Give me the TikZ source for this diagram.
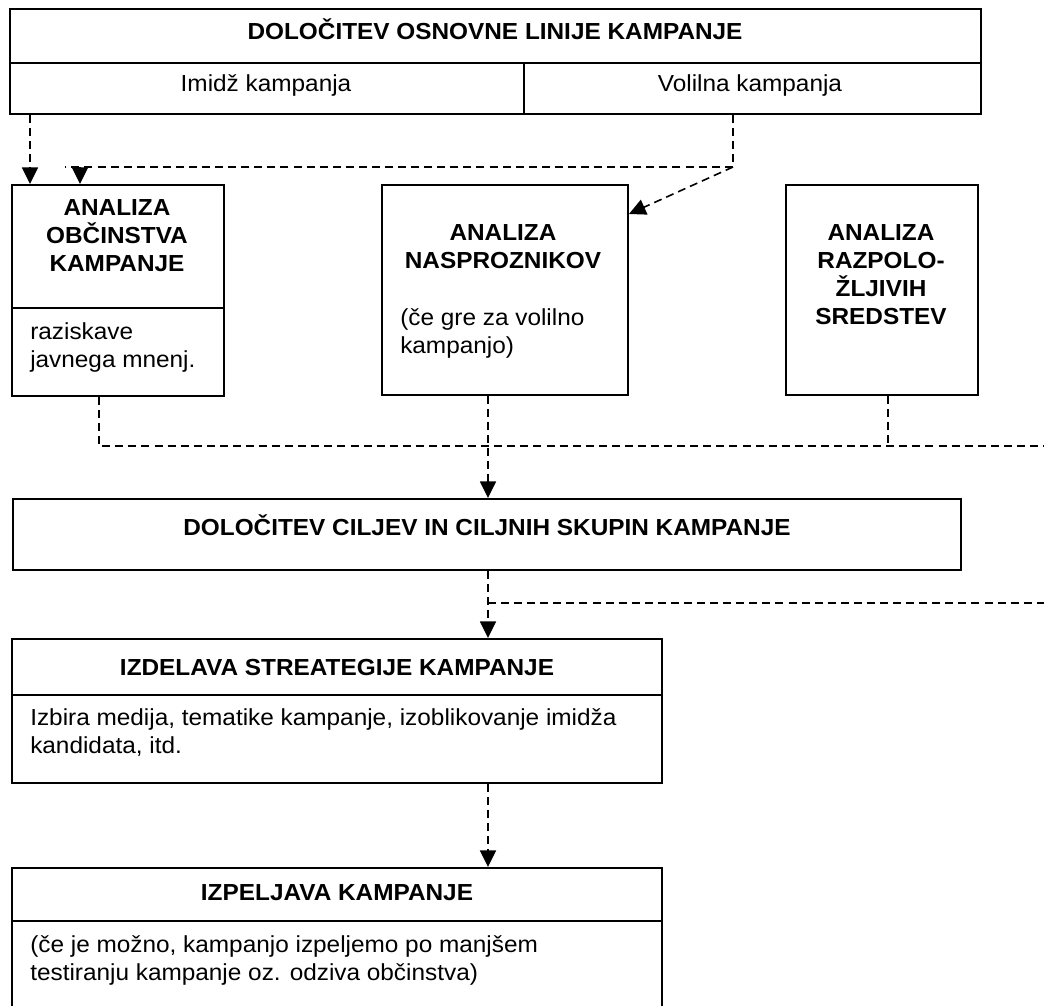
\documentclass[tikz,border=0pt]{standalone}
\usepackage{fontspec}
\setmainfont[FakeStretch=1.05]{Liberation Sans}
\usetikzlibrary{arrows.meta,calc}
\begin{document}
\begin{tikzpicture}[x=0.75pt,y=-0.75pt,
  box/.style={draw, line width=1.5pt, inner sep=0pt, anchor=north west},
  txt/.style={inner sep=0pt, font=\fontsize{17.4}{21}\selectfont},
  btxt/.style={inner sep=0pt, font=\fontsize{17.4}{21}\selectfont\bfseries},
  dl/.style={line width=1.2pt, dash pattern=on 6pt off 3.8pt},
  arr/.style={-{Triangle[length=12.5pt,width=12pt]}}
]
\useasboundingbox[fill=white] (0,0) rectangle (1044,1005);
\clip (0,0) rectangle (1044,1005);

% top box
\node[box, minimum width=728.25pt, minimum height=40.5pt] (title) at (9,8) {};
\node[box, minimum width=385.5pt, minimum height=38.25pt] (imidz) at (9,62) {};
\node[box, minimum width=342.75pt, minimum height=38.25pt] (volilna) at (523,62) {};
\node[btxt, anchor=base] (ttitle) at (495,40) {DOLOČITEV OSNOVNE LINIJE KAMPANJE};
\node[txt, anchor=base] (timidz) at (266,92) {Imidž kampanja};
\node[txt, anchor=base] (tvolilna) at (750,92) {Volilna kampanja};

% analysis boxes
\node[box, minimum width=159pt, minimum height=92.25pt] (a1) at (11,184) {};
\node[box, minimum width=159pt, minimum height=66pt] (a2) at (11,307) {};
\node[btxt, align=center, anchor=north] (ta1) at (117,199) {ANALIZA\\OBČINSTVA\\KAMPANJE};
\node[txt, align=left, anchor=north west] (ta2) at (30,322) {raziskave\\javnega mnenj.};

\node[box, minimum width=184.5pt, minimum height=157.5pt] (b) at (381,184) {};
\node[btxt, align=center, anchor=north] (tb1) at (503,224) {ANALIZA\\NASPROZNIKOV};
\node[txt, align=left, anchor=north west] (tb2) at (400,308) {(če gre za volilno\\kampanjo)};

\node[box, minimum width=144pt, minimum height=157.5pt] (c) at (785,184) {};
\node[btxt, align=center, anchor=north] (tc) at (881,224) {ANALIZA\\RAZPOLO-\\ŽLJIVIH\\SREDSTEV};

% goals box
\node[box, minimum width=711pt, minimum height=53.25pt] (d) at (12,498) {};
\node[btxt, anchor=base] (td) at (487,535) {DOLOČITEV CILJEV IN CILJNIH SKUPIN KAMPANJE};

% strategy box
\node[box, minimum width=487.5pt, minimum height=42pt] (e1) at (11,638) {};
\node[box, minimum width=487.5pt, minimum height=66pt] (e2) at (11,694) {};
\node[btxt, anchor=base] (te1) at (337,675) {IZDELAVA STREATEGIJE KAMPANJE};
\node[txt, align=left, anchor=north west] (te2) at (30,708) {Izbira medija, tematike kampanje, izoblikovanje imidža\\kandidata, itd.};

% execution box
\node[box, minimum width=487.5pt, minimum height=39.75pt] (f1) at (11,867) {};
\node[box, minimum width=487.5pt, minimum height=71.25pt] (f2) at (11,920) {};
\node[btxt, anchor=base] (tf1) at (337,900) {IZPELJAVA KAMPANJE};
\node[txt, align=left, anchor=north west] (tf2) at (30,935) {(če je možno, kampanjo izpeljemo po manjšem\\testiranju kampanje oz. odziva občinstva)};

% helper coordinates
\coordinate (c30) at (30,0);
\coordinate (c80) at (80,0);
\coordinate (c99) at (99,0);
\coordinate (c488) at (488,0);
\coordinate (c888) at (888,0);
\coordinate (j1) at (733,167);
\coordinate (j0) at (65,167);
\coordinate (rend1) at (1044,446);
\coordinate (rend2) at (1044,603);

% connectors
\draw[dl,arr] (imidz.south -| c30) -- (a1.north -| c30);
\draw[dl] (volilna.south -| j1) -- (j1) -- (j0);
\draw[dl,arr] (j0 -| c80) -- (a1.north -| c80);
\draw[dl,arr] (j1) -- ($(b.north east)+(0,30)$);

\draw[dl] (a2.south -| c99) |- (rend1);
\draw[dl] (c.south -| c888) -- (c888 |- rend1);
\draw[dl,arr] (b.south -| c488) -- (d.north -| c488);

\draw[dl,arr] (d.south -| c488) -- (e1.north -| c488);
\draw[dl] (c488 |- rend2) -- (rend2);

\draw[dl,arr] (e2.south -| c488) -- (f1.north -| c488);
\end{tikzpicture}
\end{document}
